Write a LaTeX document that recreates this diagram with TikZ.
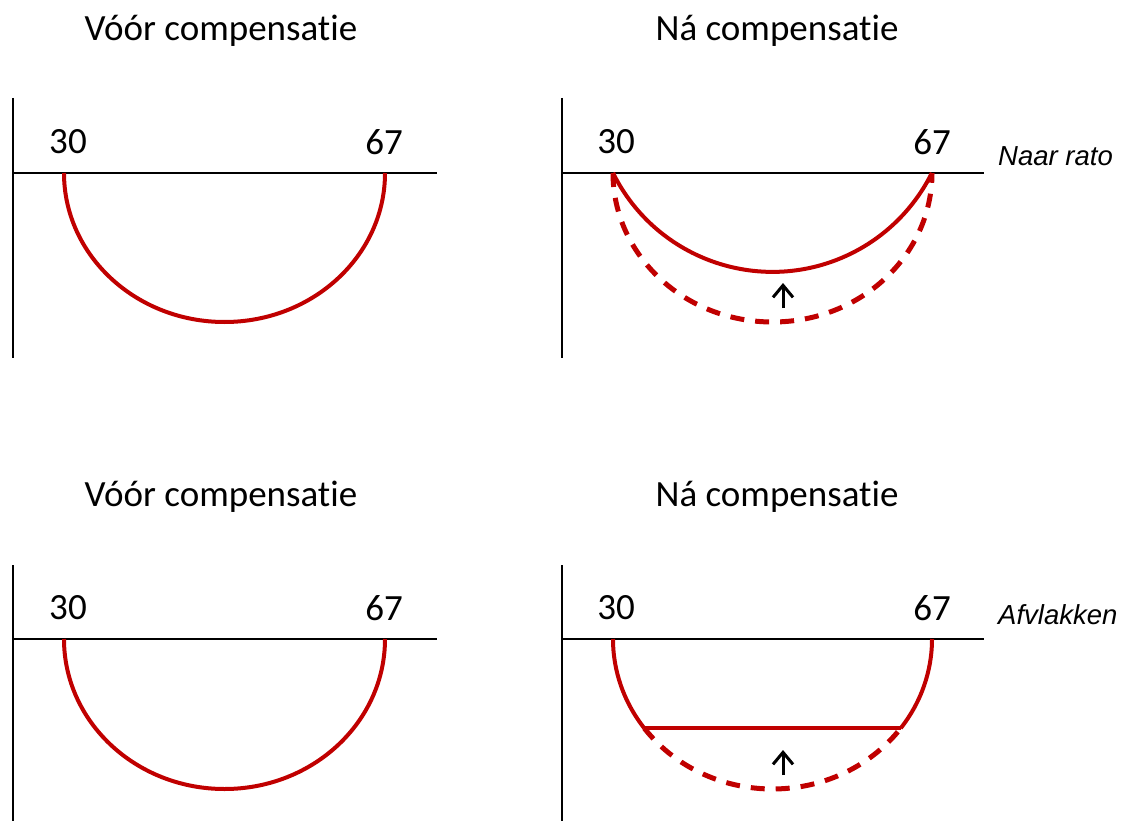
\documentclass[tikz,border=0pt]{standalone}
\usepackage{fontspec}
\setmainfont{Carlito}[Ligatures=NoCommon]
\newfontfamily\arialfont{Liberation Sans}
\usetikzlibrary{arrows.meta}
\definecolor{curvered}{HTML}{C00000}
\tikzset{
  axisline/.style={black, line width=2.2pt},
  curve/.style={curvered, line width=4pt},
  dashcurve/.style={curvered, line width=5pt, dash pattern=on 14pt off 11pt},
  title/.style={font=\fontsize{37}{42}\selectfont, inner sep=0pt},
  numlabel/.style={font=\fontsize{37}{42}\selectfont, inner sep=0pt},
  sidelabel/.style={font=\arialfont\itshape\fontsize{27.5}{32}\selectfont, inner sep=0pt, anchor=west},
  uparrow/.style={black, line width=3pt, -{Straight Barb[length=12pt,width=20pt]}}
}
\begin{document}
\begin{tikzpicture}[x=1pt,y=1pt]
\useasboundingbox (0,0) rectangle (1121,-821);
% ---------- top row ----------
\node[title] (t1) at (221,-31) {Vóór compensatie};
\node[title] (t2) at (777,-31) {Ná compensatie};
% top-left panel
\draw[axisline] (13,-98) -- (13,-358);
\draw[axisline] (13,-173) -- (437,-173);
\node[numlabel] (a30) at (68,-142) {30};
\node[numlabel] (a67) at (384,-142) {67};
\draw[curve] (64,-173) arc[start angle=180, end angle=360, x radius=160.5, y radius=149];
% top-right panel
\draw[axisline] (562,-98) -- (562,-358);
\draw[axisline] (562,-173) -- (984,-173);
\node[numlabel] (b30) at (616,-142) {30};
\node[numlabel] (b67) at (932,-142) {67};
\node[sidelabel] (naar) at (998,-156) {Naar rato};
\draw[dashcurve] (613,-173) arc[start angle=180, end angle=360, x radius=159.5, y radius=149];
\draw[curve] (613,-173) arc[start angle=206.4, end angle=333.6, radius=178];
\coordinate (ar1s) at (783,-308);
\coordinate (ar1e) at (783,-283);
\draw[uparrow] (ar1s) -- (ar1e);
% ---------- bottom row ----------
\node[title] (t3) at (221,-497) {Vóór compensatie};
\node[title] (t4) at (777,-497) {Ná compensatie};
% bottom-left panel
\draw[axisline] (13,-565) -- (13,-821);
\draw[axisline] (13,-639) -- (437,-639);
\node[numlabel] (c30) at (68,-608) {30};
\node[numlabel] (c67) at (384,-608) {67};
\draw[curve] (64,-639) arc[start angle=180, end angle=360, x radius=160.5, y radius=150];
% bottom-right panel
\draw[axisline] (562,-565) -- (562,-821);
\draw[axisline] (562,-639) -- (984,-639);
\node[numlabel] (d30) at (616,-608) {30};
\node[numlabel] (d67) at (932,-608) {67};
\node[sidelabel] (afv) at (998,-615) {Afvlakken};
\draw[curve] (613,-639) arc[start angle=180, end angle=216.5, x radius=159.5, y radius=150] coordinate (fl);
\draw[dashcurve] (fl) arc[start angle=216.5, end angle=323.5, x radius=159.5, y radius=150] coordinate (fr);
\draw[curve] (fr) arc[start angle=323.5, end angle=360, x radius=159.5, y radius=150];
\draw[curve] (fl) -- (fr);
\coordinate (ar2s) at (783,-775);
\coordinate (ar2e) at (783,-750);
\draw[uparrow] (ar2s) -- (ar2e);
\end{tikzpicture}
\end{document}
